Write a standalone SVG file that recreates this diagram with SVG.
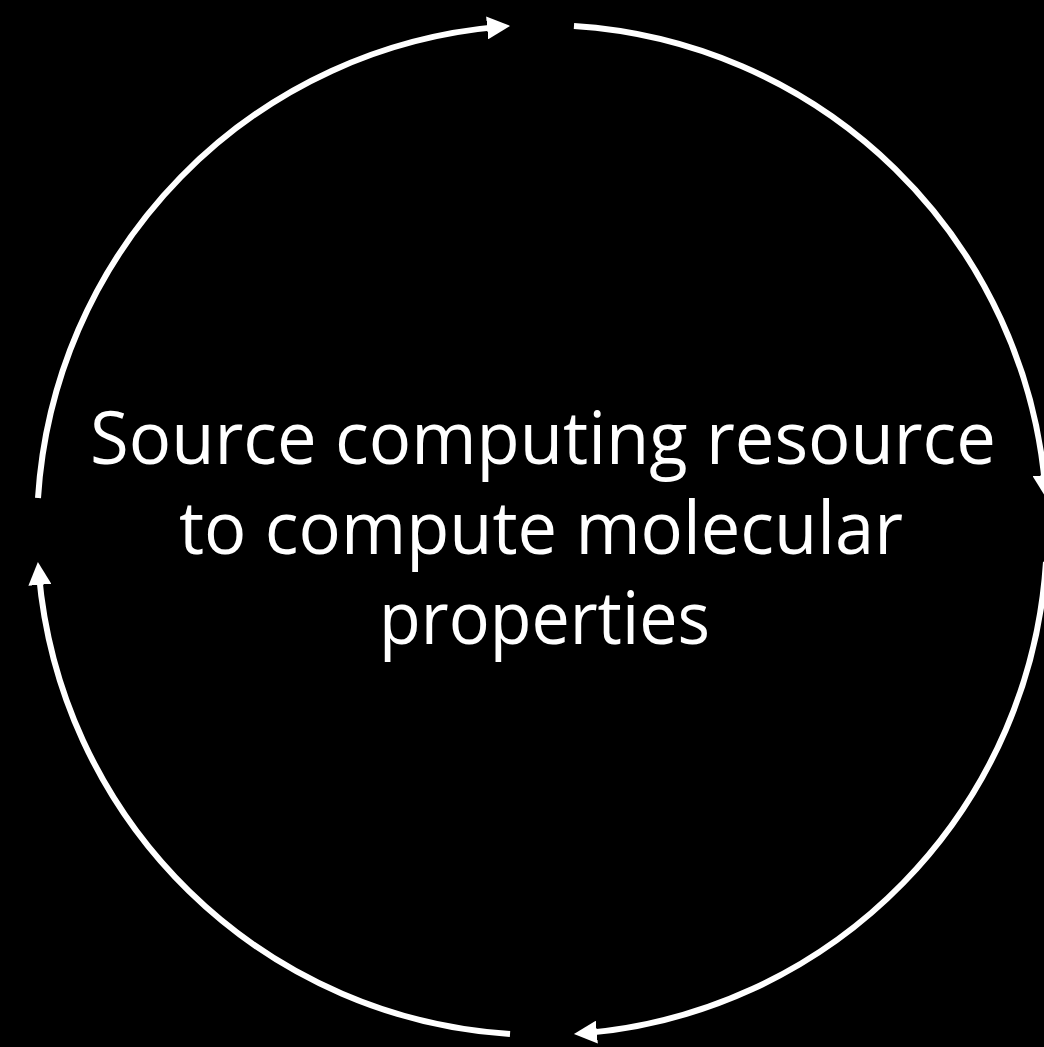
<svg xmlns="http://www.w3.org/2000/svg" width="1044" height="1047" viewBox="0 0 1044 1047">
<style>
.arc{fill:none;stroke:#fff;stroke-width:6;marker-end:url(#ah)}
.lbl{font-family:"Open Sans","Noto Sans",sans-serif;font-size:73px;fill:#fff;text-anchor:middle}
</style>
<defs>
<marker id="ah" viewBox="0 0 10 10" refX="5" refY="5" markerUnits="userSpaceOnUse" markerWidth="23" markerHeight="23" orient="auto">
<path d="M0,0 L10,5 L0,10 z" fill="#fff"/>
</marker>
</defs>
<rect width="1044" height="1047" fill="#000"/>
<g id="connectors">
<path class="arc" d="M38.01,498.03 A505,505 0 0 1 498.60,26.87"/>
<path class="arc" d="M573.97,26.01 A505,505 0 0 1 1045.13,486.60"/>
<path class="arc" d="M1045.99,561.97 A505,505 0 0 1 585.40,1033.13"/>
<path class="arc" d="M510.03,1033.99 A505,505 0 0 1 38.87,573.40"/>
</g>
<g id="center-label">
<text class="lbl" x="543" y="464" textLength="906" lengthAdjust="spacingAndGlyphs">Source computing resource</text>
<text class="lbl" x="541" y="554" textLength="724" lengthAdjust="spacingAndGlyphs">to compute molecular</text>
<text class="lbl" x="544.5" y="644" textLength="331" lengthAdjust="spacingAndGlyphs">properties</text>
</g>
</svg>
